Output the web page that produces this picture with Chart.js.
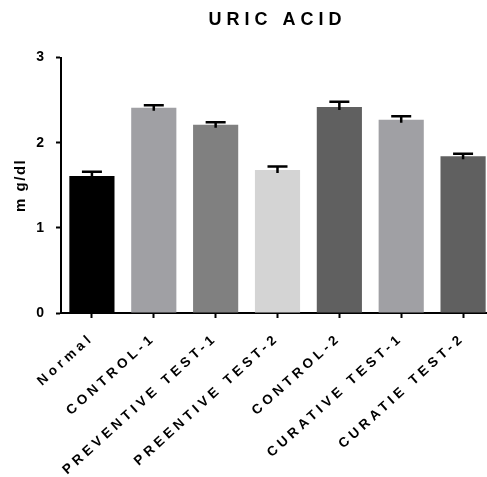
<!DOCTYPE html>
<html>
<head>
<meta charset="utf-8">
<title>Uric acid</title>
<script src="https://cdn.jsdelivr.net/npm/chart.js@4/dist/chart.umd.min.js"></script>
<style>
  html, body { margin: 0; padding: 0; background: #fff; overflow: hidden; width: 487px; height: 477px; }
  canvas { display: block; }
</style>
</head>
<body>
<canvas id="chart" width="494" height="477"></canvas>
<script>
// Group labels (spellings as printed on the axis)
const categories = ['Normal', 'CONTROL-1', 'PREVENTIVE TEST-1', 'PREENTIVE TEST-2', 'CONTROL-2', 'CURATIVE TEST-1', 'CURATIE TEST-2'];
// Mean uric acid, mg/dl
const means = [1.61, 2.41, 2.21, 1.68, 2.42, 2.27, 1.84];
// Standard error of the mean (upper whisker only)
const sems = [0.05, 0.03, 0.03, 0.04, 0.06, 0.04, 0.03];
const barColors = ['#000000', '#a0a0a4', '#808080', '#d4d4d4', '#606060', '#a0a0a4', '#606060'];
const yTicks = [0, 1, 2, 3];

Chart.defaults.font.family = '"Liberation Sans", Arial, Helvetica, sans-serif';
Chart.defaults.color = '#000';

// Run one drawing method of a chart element with its own letter spacing
function withSpacing(target, method, spacing) {
  if (!target || target['_spaced_' + method]) return;
  const original = target[method];
  target[method] = function (...args) {
    const ctx = this.ctx;
    const previous = ctx.letterSpacing;
    ctx.letterSpacing = spacing;
    original.apply(this, args);
    ctx.letterSpacing = previous;
  };
  target['_spaced_' + method] = true;
}

const spacedText = {
  id: 'spacedText',
  beforeDraw(chart) {
    withSpacing(chart.titleBlock, 'draw', '5px');
    withSpacing(chart.scales.x, 'drawLabels', '4px');
    withSpacing(chart.scales.y, 'drawTitle', '1.5px');
  }
};

// Upper SEM whiskers with caps
const errorBars = {
  id: 'errorBars',
  afterDatasetsDraw(chart) {
    const ctx = chart.ctx;
    const y = chart.scales.y;
    const meta = chart.getDatasetMeta(0);
    ctx.save();
    ctx.strokeStyle = '#000';
    ctx.lineWidth = 2.5;
    meta.data.forEach((bar, i) => {
      const top = y.getPixelForValue(means[i] + sems[i]);
      ctx.beginPath();
      ctx.moveTo(bar.x, bar.y + 3);
      ctx.lineTo(bar.x, top);
      ctx.moveTo(bar.x - 10, top);
      ctx.lineTo(bar.x + 10, top);
      ctx.stroke();
    });
    ctx.restore();
  }
};

new Chart(document.getElementById('chart'), {
  type: 'bar',
  data: {
    labels: categories,
    datasets: [{
      data: means,
      backgroundColor: barColors,
      borderWidth: 0,
      categoryPercentage: 1,
      barPercentage: 0.73
    }]
  },
  options: {
    responsive: false,
    animation: false,
    devicePixelRatio: 1,
    layout: { padding: { top: 0, left: 0, right: 0, bottom: 0 } },
    plugins: {
      legend: { display: false },
      tooltip: { enabled: false },
      title: {
        display: true,
        text: 'URIC ACID',
        fullSize: false,
        color: '#000',
        font: { size: 18, weight: 'bold' },
        padding: { top: 9, bottom: 27 }
      }
    },
    scales: {
      x: {
        type: 'category',
        offset: true,
        grid: { display: true, drawOnChartArea: false, offset: false, tickLength: 5, tickWidth: 2, tickColor: '#000' },
        border: { display: true, color: '#000', width: 2 },
        ticks: {
          autoSkip: false,
          minRotation: 42,
          maxRotation: 42,
          padding: 12,
          color: '#000',
          font: { size: 13.5, weight: 'bold' }
        },
        afterFit(scale) {
          scale.height = 164;
          scale.paddingLeft = 0;
          scale.paddingRight = 0;
        }
      },
      y: {
        min: 0,
        max: 3,
        afterBuildTicks(scale) { scale.ticks = yTicks.map(v => ({ value: v })); },
        grid: { display: true, drawOnChartArea: false, tickLength: 5, tickWidth: 2, tickColor: '#000' },
        border: { display: true, color: '#000', width: 2 },
        ticks: {
          padding: 12,
          color: '#000',
          font: { size: 14, weight: 'bold' }
        },
        title: {
          display: true,
          text: 'm g/dl',
          color: '#000',
          font: { size: 15, weight: 'bold' },
          padding: { top: 12, bottom: 0 }
        },
        afterFit(scale) { scale.width = 61; }
      }
    }
  },
  plugins: [spacedText, errorBars]
});
</script>
</body>
</html>
